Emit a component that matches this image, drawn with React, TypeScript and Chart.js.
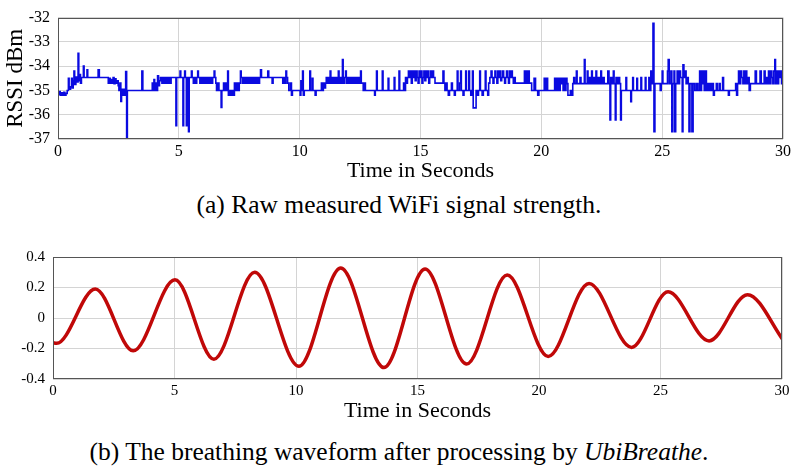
import { useEffect, useRef } from "react";
import { Chart, registerables } from "chart.js";

Chart.register(...registerables);

const FONT = "'Liberation Serif', 'Times New Roman', serif";

// ---- (a) raw RSSI trace: [time in s, RSSI dBm] (step changes)
const rssiTrace: [number, number][] = [
  [0, -35.15], [0.05, -35.05], [0.09, -35.2], [0.14, -35.1], [0.19, -35.2], [0.24, -35.08],
  [0.28, -35.2], [0.33, -35.12], [0.38, -35.0], [0.43, -34.5], [0.46, -34.95], [0.52, -34.85],
  [0.56, -34.5], [0.59, -34.9], [0.63, -34.6], [0.66, -34.2], [0.69, -34.75], [0.74, -34.45],
  [0.78, -34.65], [0.83, -33.47], [0.86, -34.6], [0.9, -34.35], [0.93, -34.7], [0.97, -34.47],
  [1.05, -34.0], [1.08, -34.47], [1.2, -34.15], [1.23, -34.47], [1.66, -34.15], [1.71, -34.47],
  [2.08, -34.7], [2.12, -34.5], [2.16, -34.7], [2.2, -34.55], [2.24, -34.7], [2.28, -34.47],
  [2.32, -34.72], [2.36, -34.52], [2.4, -34.7], [2.45, -34.6], [2.49, -34.8], [2.52, -35.0],
  [2.56, -34.7], [2.6, -35.45], [2.63, -34.95], [2.67, -35.2], [2.71, -34.95], [2.76, -35.2],
  [2.8, -34.22], [2.84, -37.0], [2.87, -35.0], [3.47, -34.2], [3.51, -35.0], [3.9, -34.7],
  [3.93, -35.0], [3.97, -34.55], [4.0, -35.0], [4.04, -34.7], [4.08, -35.0], [4.12, -34.4],
  [4.16, -34.8], [4.2, -34.6], [4.24, -34.47], [4.3, -34.7], [4.33, -34.47], [4.38, -34.7],
  [4.41, -34.47], [4.47, -34.7], [4.5, -34.47], [4.56, -34.7], [4.59, -34.47], [4.65, -34.7],
  [4.68, -34.47], [4.88, -36.45], [4.91, -34.47], [5.05, -34.2], [5.08, -34.47], [5.17, -36.45],
  [5.2, -34.47], [5.24, -34.2], [5.27, -34.47], [5.31, -36.45], [5.34, -34.47], [5.4, -36.7],
  [5.43, -34.47], [5.52, -34.2], [5.55, -34.47], [5.6, -34.7], [5.64, -34.47], [5.7, -34.7],
  [5.74, -34.47], [5.78, -34.2], [5.81, -34.47], [5.87, -34.7], [5.91, -34.47], [5.97, -34.7],
  [6.01, -34.47], [6.06, -34.7], [6.1, -34.47], [6.16, -34.7], [6.2, -34.47], [6.26, -34.7],
  [6.3, -34.47], [6.36, -34.7], [6.4, -34.47], [6.46, -34.2], [6.49, -34.47], [6.53, -34.7],
  [6.56, -35.0], [6.62, -34.7], [6.66, -35.0], [6.75, -35.7], [6.78, -35.0], [6.85, -34.7],
  [6.88, -35.0], [6.93, -34.7], [6.97, -35.0], [7.02, -34.2], [7.05, -35.2], [7.1, -35.0],
  [7.15, -35.2], [7.2, -35.0], [7.25, -35.2], [7.3, -34.7], [7.34, -35.0], [7.4, -34.7],
  [7.44, -35.0], [7.5, -34.7], [7.55, -34.2], [7.58, -34.47], [7.63, -34.7], [7.66, -34.47],
  [7.71, -34.7], [7.74, -34.47], [7.79, -34.7], [7.82, -34.47], [7.87, -34.7], [7.9, -34.47],
  [7.96, -34.7], [7.99, -34.47], [8.05, -34.7], [8.08, -34.47], [8.14, -34.7], [8.17, -34.47],
  [8.23, -34.7], [8.26, -34.47], [8.31, -34.7], [8.34, -34.47], [8.38, -34.15], [8.42, -34.47],
  [8.68, -34.2], [8.72, -34.47], [8.86, -34.7], [8.9, -34.47], [9.3, -34.7], [9.34, -34.47],
  [9.39, -34.7], [9.43, -34.2], [9.46, -34.47], [9.5, -34.7], [9.55, -35.0], [9.62, -34.7],
  [9.66, -35.2], [9.7, -35.0], [10.02, -35.2], [10.05, -34.6], [10.08, -35.0], [10.12, -34.2],
  [10.15, -35.2], [10.19, -35.0], [10.42, -34.2], [10.45, -35.0], [10.52, -34.5], [10.55, -35.0],
  [10.64, -35.2], [10.68, -35.0], [10.9, -34.7], [10.94, -35.0], [10.98, -34.7], [11.03, -34.9],
  [11.07, -34.7], [11.1, -34.47], [11.14, -34.7], [11.18, -34.47], [11.22, -34.7], [11.26, -34.2],
  [11.29, -34.7], [11.34, -34.47], [11.38, -34.7], [11.43, -34.47], [11.47, -34.7], [11.52, -34.47],
  [11.56, -34.7], [11.6, -34.2], [11.63, -34.7], [11.68, -34.47], [11.72, -34.7], [11.77, -33.73],
  [11.8, -34.7], [11.85, -34.47], [11.9, -34.2], [11.93, -34.7], [11.98, -34.47], [12.02, -34.7],
  [12.07, -34.47], [12.11, -34.7], [12.16, -34.47], [12.2, -34.7], [12.25, -34.47], [12.29, -34.7],
  [12.34, -34.47], [12.38, -34.7], [12.43, -34.47], [12.47, -34.7], [12.52, -34.2], [12.55, -34.7],
  [12.63, -35.0], [12.67, -34.7], [12.72, -35.0], [13.1, -35.2], [13.13, -35.0], [13.18, -34.2],
  [13.21, -35.0], [13.42, -34.2], [13.45, -35.0], [13.66, -34.5], [13.69, -35.0], [13.91, -34.47],
  [13.94, -35.0], [14.11, -34.2], [14.14, -35.0], [14.3, -34.7], [14.34, -35.0], [14.38, -34.47],
  [14.42, -34.7], [14.46, -34.47], [14.5, -34.2], [14.54, -34.47], [14.58, -34.2], [14.62, -34.7],
  [14.66, -34.2], [14.7, -34.47], [14.74, -34.2], [14.78, -34.6], [14.82, -34.2], [14.86, -34.47],
  [14.9, -34.7], [14.94, -34.2], [14.98, -34.47], [15.02, -34.2], [15.06, -34.7], [15.1, -34.47],
  [15.14, -34.2], [15.18, -34.6], [15.22, -34.2], [15.26, -34.47], [15.3, -34.2], [15.34, -34.7],
  [15.38, -34.47], [15.42, -34.2], [15.46, -34.47], [15.5, -34.2], [15.54, -34.47], [15.6, -34.7],
  [15.93, -34.2], [15.97, -34.7], [16.01, -35.0], [16.06, -34.7], [16.1, -35.0], [16.15, -35.2],
  [16.2, -35.0], [16.28, -34.7], [16.32, -35.0], [16.4, -35.2], [16.44, -35.0], [16.52, -34.2],
  [16.55, -35.0], [16.62, -34.7], [16.66, -34.2], [16.69, -35.0], [16.76, -35.2], [16.8, -35.0],
  [16.87, -34.2], [16.9, -35.0], [17.0, -34.2], [17.03, -35.0], [17.08, -35.2], [17.12, -35.0],
  [17.15, -34.2], [17.18, -35.72], [17.3, -35.0], [17.36, -35.2], [17.4, -35.0], [17.45, -34.2],
  [17.48, -35.0], [17.55, -35.2], [17.6, -35.0], [17.68, -34.2], [17.71, -35.0], [17.78, -35.2],
  [17.82, -34.7], [17.87, -34.47], [17.92, -34.2], [17.96, -34.47], [18.0, -34.7], [18.04, -34.47],
  [18.08, -34.2], [18.12, -34.47], [18.16, -34.7], [18.2, -34.2], [18.24, -34.47], [18.28, -34.2],
  [18.32, -34.6], [18.36, -34.47], [18.4, -34.2], [18.44, -34.47], [18.48, -34.7], [18.52, -34.47],
  [18.56, -34.2], [18.6, -34.47], [18.64, -34.7], [18.68, -34.2], [18.72, -34.47], [18.76, -34.2],
  [18.8, -34.47], [18.84, -34.7], [18.88, -34.47], [18.92, -34.7], [19.3, -34.2], [19.33, -34.7],
  [19.38, -34.2], [19.42, -34.7], [19.46, -34.2], [19.5, -34.7], [19.6, -35.0], [19.7, -34.5],
  [19.76, -35.0], [19.85, -35.2], [19.9, -35.0], [20.12, -34.5], [20.16, -35.0], [20.22, -34.5],
  [20.26, -35.0], [20.55, -34.5], [20.59, -35.0], [20.63, -34.5], [20.67, -35.0], [20.7, -34.5],
  [20.74, -35.0], [20.78, -34.5], [20.82, -34.72], [20.86, -34.5], [20.9, -35.0], [20.94, -34.5],
  [20.98, -35.0], [21.02, -34.5], [21.06, -34.72], [21.1, -35.2], [21.2, -35.0], [21.25, -35.2],
  [21.3, -34.72], [21.34, -34.47], [21.38, -34.72], [21.45, -34.2], [21.48, -34.72], [21.6, -34.47],
  [21.64, -34.72], [21.78, -33.73], [21.81, -34.72], [21.9, -34.2], [21.93, -34.72], [21.98, -34.47],
  [22.02, -34.72], [22.08, -34.2], [22.11, -34.72], [22.16, -34.47], [22.2, -34.72], [22.26, -34.2],
  [22.29, -34.72], [22.35, -34.47], [22.4, -34.72], [22.46, -34.2], [22.49, -34.72], [22.55, -34.47],
  [22.6, -34.72], [22.75, -34.2], [22.8, -34.72], [22.84, -36.22], [22.87, -34.47], [22.92, -34.72],
  [22.98, -34.2], [23.01, -34.72], [23.06, -36.22], [23.09, -34.47], [23.14, -34.72], [23.2, -34.47],
  [23.24, -34.72], [23.28, -36.22], [23.31, -35.0], [23.5, -34.47], [23.53, -35.0], [23.7, -35.46],
  [23.73, -35.0], [23.78, -34.47], [23.81, -35.0], [23.95, -34.5], [23.98, -35.0], [24.12, -34.47],
  [24.15, -35.0], [24.3, -34.47], [24.33, -35.0], [24.45, -34.47], [24.48, -35.0], [24.53, -34.2],
  [24.57, -34.72], [24.62, -32.23], [24.66, -36.7], [24.7, -34.72], [24.92, -35.0], [24.96, -34.72],
  [25.0, -34.2], [25.03, -34.72], [25.22, -34.2], [25.25, -33.73], [25.29, -34.72], [25.36, -34.2],
  [25.4, -36.7], [25.44, -34.72], [25.49, -34.2], [25.52, -36.7], [25.56, -34.72], [25.62, -34.2],
  [25.66, -34.72], [25.72, -34.2], [25.76, -34.47], [25.83, -36.7], [25.86, -33.94], [25.9, -34.47],
  [25.95, -34.2], [25.99, -34.72], [26.04, -34.47], [26.08, -34.72], [26.11, -36.7], [26.15, -34.72],
  [26.23, -36.7], [26.28, -34.72], [26.35, -35.0], [26.42, -34.72], [26.48, -35.0], [26.55, -34.2],
  [26.58, -35.0], [26.63, -34.2], [26.66, -34.72], [26.71, -34.2], [26.74, -35.0], [26.8, -34.2],
  [26.83, -35.0], [26.88, -34.72], [26.92, -35.0], [26.98, -34.72], [27.02, -35.0], [27.08, -34.72],
  [27.12, -35.2], [27.16, -35.0], [27.24, -34.72], [27.28, -35.0], [27.36, -34.72], [27.4, -35.0],
  [27.5, -34.47], [27.54, -35.0], [27.74, -35.2], [27.78, -35.0], [28.04, -34.72], [28.08, -35.2],
  [28.12, -34.72], [28.16, -34.2], [28.2, -34.72], [28.25, -34.2], [28.29, -34.47], [28.34, -34.72],
  [28.38, -34.2], [28.42, -34.72], [28.47, -34.2], [28.5, -34.72], [28.55, -34.47], [28.6, -35.0],
  [28.65, -34.72], [28.85, -34.2], [28.9, -34.72], [29.05, -34.2], [29.1, -34.72], [29.22, -34.2],
  [29.26, -34.72], [29.3, -34.47], [29.34, -34.72], [29.4, -34.2], [29.44, -34.72], [29.5, -34.2],
  [29.54, -34.47], [29.58, -34.72], [29.62, -34.2], [29.66, -33.73], [29.69, -34.72], [29.74, -34.2],
  [29.78, -34.72], [29.82, -34.2], [29.86, -34.47], [29.9, -34.2], [29.94, -34.72], [30.0, -34.72],
];
const rssiYTicks = [-37, -36, -35, -34, -33, -32];
const timeTicks = [0, 5, 10, 15, 20, 25, 30];

// ---- (b) breathing waveform: peaks / troughs
const breathTime = [0, 0.15, 1.74, 3.3, 5.02, 6.62, 8.3, 10.12, 11.84, 13.62, 15.31, 17.02, 18.69, 20.38, 22.06, 23.81, 25.31, 27.0, 28.58, 30.1];
const breathValue = [-0.163, -0.166, 0.19, -0.215, 0.25, -0.27, 0.3, -0.317, 0.328, -0.325, 0.322, -0.302, 0.282, -0.252, 0.227, -0.193, 0.172, -0.15, 0.153, -0.157];
const breathYTicks = [-0.4, -0.2, 0, 0.2, 0.4];
const breathYLabels = ["-0.4", "-0.2", "0", "0.2", "0.4"];

const boxPlugin = {
  id: "plotBox",
  afterDatasetsDraw(chart: any) {
    const { ctx, chartArea: a } = chart;
    ctx.save();
    ctx.strokeStyle = "#555";
    ctx.lineWidth = 1;
    const l = Math.round(a.left) + 0.5;
    const t = Math.round(a.top) + 0.5;
    const r = Math.round(a.right) - 0.5;
    const b = Math.round(a.bottom) - 0.5;
    ctx.strokeRect(l, t, r - l, b - t);
    ctx.restore();
  },
};

const gridColor = "#d4d4d4";

function makeTicks(values: number[]) {
  return (scale: any) => {
    scale.ticks = values.map((v) => ({ value: v }));
  };
}

export default function App() {
  const topRef = useRef<HTMLCanvasElement>(null);
  const botRef = useRef<HTMLCanvasElement>(null);

  useEffect(() => {
    const top = new Chart(topRef.current!, {
      type: "line",
      data: {
        datasets: [
          {
            data: rssiTrace.map(([t, v]) => ({ x: t, y: v })),
            borderColor: "#0a0ae0",
            borderWidth: 1.6,
            pointRadius: 0,
            stepped: true,
            fill: false,
          },
        ],
      },
      options: {
        animation: false,
        responsive: false,
        events: [],
        layout: { padding: { left: 0, right: 15, top: 7, bottom: 0 } },
        plugins: { legend: { display: false }, tooltip: { enabled: false } },
        scales: {
          x: {
            type: "linear",
            min: 0,
            max: 30,
            afterBuildTicks: makeTicks(timeTicks),
            afterFit: (s: any) => {
              s.height = 45;
            },
            grid: { color: gridColor, drawTicks: false },
            border: { display: false },
            ticks: { font: { family: FONT, size: 16 }, color: "#000", padding: 3, maxRotation: 0, autoSkip: false },
            title: { display: true, text: "Time in Seconds", font: { family: FONT, size: 22 }, color: "#000", padding: 0 },
          },
          y: {
            type: "linear",
            min: -37,
            max: -32,
            afterBuildTicks: makeTicks(rssiYTicks),
            afterFit: (s: any) => {
              s.width = 58;
            },
            grid: { color: gridColor, drawTicks: false },
            border: { display: false },
            ticks: { font: { family: FONT, size: 16 }, color: "#000", padding: 8, autoSkip: false, callback: (v: any) => String(v) },
            title: { display: true, text: "RSSI dBm", font: { family: FONT, size: 23 }, color: "#000", padding: { top: 2, bottom: 0 } },
          },
        },
      },
      plugins: [boxPlugin],
    } as any);

    const bot = new Chart(botRef.current!, {
      type: "line",
      data: {
        datasets: [
          {
            data: breathTime.map((t, i) => ({ x: t, y: breathValue[i] })),
            borderColor: "#c00808",
            borderWidth: 3.5,
            pointRadius: 0,
            cubicInterpolationMode: "monotone",
            fill: false,
          },
        ],
      },
      options: {
        animation: false,
        responsive: false,
        events: [],
        layout: { padding: { left: 0, right: 16, top: 8, bottom: 0 } },
        plugins: { legend: { display: false }, tooltip: { enabled: false } },
        scales: {
          x: {
            type: "linear",
            min: 0,
            max: 30,
            afterBuildTicks: makeTicks(timeTicks),
            afterFit: (s: any) => {
              s.height = 45;
            },
            grid: { color: gridColor, drawTicks: false },
            border: { display: false },
            ticks: { font: { family: FONT, size: 15 }, color: "#000", padding: 3, maxRotation: 0, autoSkip: false },
            title: { display: true, text: "Time in Seconds", font: { family: FONT, size: 22 }, color: "#000", padding: 0 },
          },
          y: {
            type: "linear",
            min: -0.4,
            max: 0.4,
            afterBuildTicks: makeTicks(breathYTicks),
            afterFit: (s: any) => {
              s.width = 53;
            },
            grid: { color: gridColor, drawTicks: false },
            border: { display: false },
            ticks: {
              font: { family: FONT, size: 15 },
              color: "#000",
              padding: 8,
              autoSkip: false,
              callback: (v: any) => {
                const i = breathYTicks.findIndex((t) => Math.abs(t - Number(v)) < 1e-6);
                return i >= 0 ? breathYLabels[i] : "";
              },
            },
          },
        },
      },
      plugins: [boxPlugin],
    } as any);

    return () => {
      top.destroy();
      bot.destroy();
    };
  }, []);

  const caption: React.CSSProperties = {
    position: "absolute",
    left: 0,
    width: 798,
    textAlign: "center",
    fontFamily: FONT,
    fontSize: 25.5,
    lineHeight: "25px",
    color: "#000",
    whiteSpace: "nowrap",
  };

  return (
    <div style={{ position: "absolute", left: 0, top: 0, width: 798, height: 468, background: "#fff", overflow: "hidden" }}>
      <canvas ref={topRef} width={798} height={184} style={{ position: "absolute", left: 0, top: 0 }} />
      <div style={{ ...caption, top: 192 }}>(a) Raw measured WiFi signal strength.</div>
      <canvas ref={botRef} width={798} height={184} style={{ position: "absolute", left: 0, top: 240 }} />
      <div style={{ ...caption, top: 439 }}>
        (b) The breathing waveform after processing by <i>UbiBreathe</i>.
      </div>
    </div>
  );
}
